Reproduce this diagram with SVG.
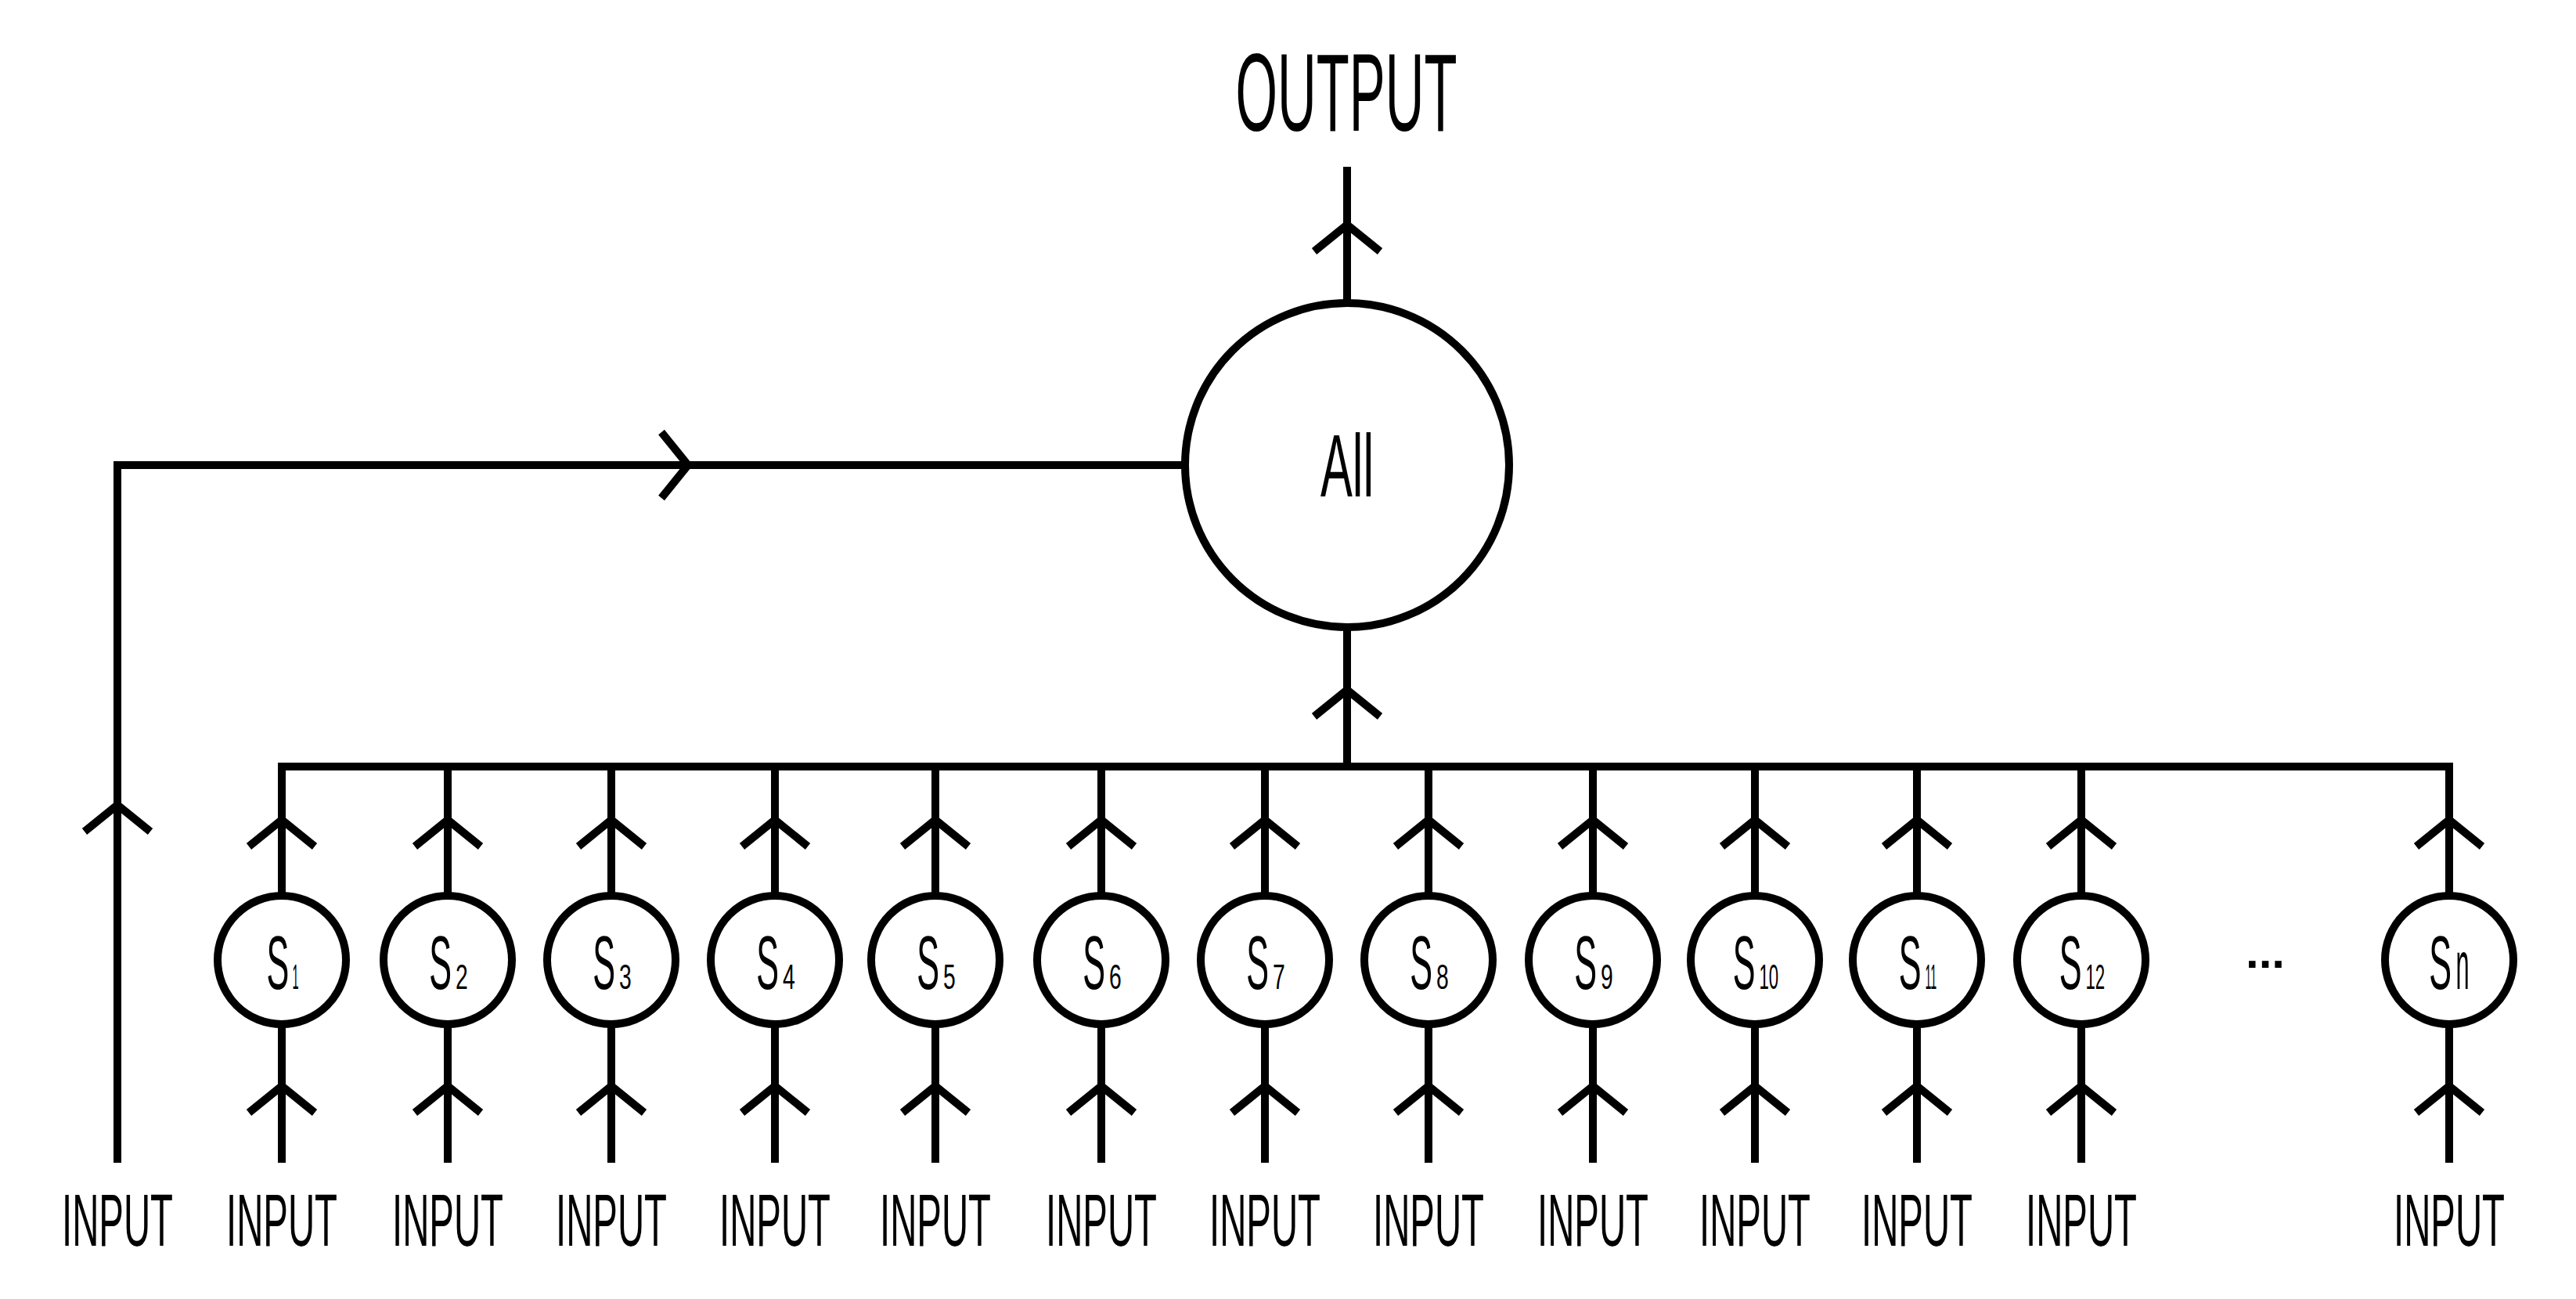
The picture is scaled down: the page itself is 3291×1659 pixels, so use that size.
<svg xmlns="http://www.w3.org/2000/svg" xmlns:xlink="http://www.w3.org/1999/xlink" width="3291" height="1659" viewBox="0 0 3291 1659">
  <style>
    .ln { fill: none; stroke: #000; stroke-width: 10; stroke-linejoin: miter; stroke-linecap: butt; }
    .nd { fill: #fff; stroke: #000; stroke-width: 10; }
    .t { font-family: "Liberation Sans", Arial, sans-serif; fill: #000; text-anchor: middle; }
    .in { font-size: 95px; }
    .sl { font-size: 96px; }
    .sub { font-size: 44px; }
  </style>
  <defs>
    <path id="chev" class="ln" d="M-42,34 L0,0 L42,34"/>
  </defs>
  <rect x="0" y="0" width="3291" height="1659" fill="#fff"/>

  <g id="connectors">
    <path class="ln" d="M1721,213 V387"/>
    <use xlink:href="#chev" href="#chev" x="1721" y="287"/>
    <path class="ln" d="M1721,801 V979"/>
    <use xlink:href="#chev" href="#chev" x="1721" y="881"/>
    <path class="ln" d="M150,1485 V594 H1514"/>
    <use xlink:href="#chev" href="#chev" x="150" y="1028"/>
    <use xlink:href="#chev" href="#chev" transform="translate(879,594) rotate(90)"/>
    <path class="ln" d="M360,1485 V979 H3129 V1485"/>
    <path class="ln" d="M572,979 V1485 M781,979 V1485 M990,979 V1485 M1195,979 V1485 M1407,979 V1485 M1616,979 V1485 M1825,979 V1485 M2035,979 V1485 M2242,979 V1485 M2449,979 V1485 M2659,979 V1485"/>
    <g id="upper-arrows">
      <use xlink:href="#chev" href="#chev" x="360" y="1047"/>
      <use xlink:href="#chev" href="#chev" x="572" y="1047"/>
      <use xlink:href="#chev" href="#chev" x="781" y="1047"/>
      <use xlink:href="#chev" href="#chev" x="990" y="1047"/>
      <use xlink:href="#chev" href="#chev" x="1195" y="1047"/>
      <use xlink:href="#chev" href="#chev" x="1407" y="1047"/>
      <use xlink:href="#chev" href="#chev" x="1616" y="1047"/>
      <use xlink:href="#chev" href="#chev" x="1825" y="1047"/>
      <use xlink:href="#chev" href="#chev" x="2035" y="1047"/>
      <use xlink:href="#chev" href="#chev" x="2242" y="1047"/>
      <use xlink:href="#chev" href="#chev" x="2449" y="1047"/>
      <use xlink:href="#chev" href="#chev" x="2659" y="1047"/>
      <use xlink:href="#chev" href="#chev" x="3129" y="1047"/>
    </g>
    <g id="lower-arrows">
      <use xlink:href="#chev" href="#chev" x="360" y="1387"/>
      <use xlink:href="#chev" href="#chev" x="572" y="1387"/>
      <use xlink:href="#chev" href="#chev" x="781" y="1387"/>
      <use xlink:href="#chev" href="#chev" x="990" y="1387"/>
      <use xlink:href="#chev" href="#chev" x="1195" y="1387"/>
      <use xlink:href="#chev" href="#chev" x="1407" y="1387"/>
      <use xlink:href="#chev" href="#chev" x="1616" y="1387"/>
      <use xlink:href="#chev" href="#chev" x="1825" y="1387"/>
      <use xlink:href="#chev" href="#chev" x="2035" y="1387"/>
      <use xlink:href="#chev" href="#chev" x="2242" y="1387"/>
      <use xlink:href="#chev" href="#chev" x="2449" y="1387"/>
      <use xlink:href="#chev" href="#chev" x="2659" y="1387"/>
      <use xlink:href="#chev" href="#chev" x="3129" y="1387"/>
    </g>
  </g>

  <g id="output-label">
    <text class="t" transform="translate(1720,167) scale(0.488,1)" font-size="141">OUTPUT</text>
  </g>

  <g id="node-all">
    <circle class="nd" cx="1721" cy="594" r="207"/>
    <text class="t" transform="translate(1721,634) scale(0.542,1)" font-size="113">All</text>
  </g>

  <g id="node-s1"><circle class="nd" cx="360" cy="1226" r="82"/><text class="t sl" transform="translate(361,1263) scale(0.45,1)">S<tspan class="sub" dx="9" textLength="18" lengthAdjust="spacingAndGlyphs">1</tspan></text></g>
  <g id="node-s2"><circle class="nd" cx="572" cy="1226" r="82"/><text class="t sl" transform="translate(573,1263) scale(0.45,1)">S<tspan class="sub" dx="11" textLength="35" lengthAdjust="spacingAndGlyphs">2</tspan></text></g>
  <g id="node-s3"><circle class="nd" cx="781" cy="1226" r="82"/><text class="t sl" transform="translate(782,1263) scale(0.45,1)">S<tspan class="sub" dx="11" textLength="35" lengthAdjust="spacingAndGlyphs">3</tspan></text></g>
  <g id="node-s4"><circle class="nd" cx="990" cy="1226" r="82"/><text class="t sl" transform="translate(991,1263) scale(0.45,1)">S<tspan class="sub" dx="11" textLength="35" lengthAdjust="spacingAndGlyphs">4</tspan></text></g>
  <g id="node-s5"><circle class="nd" cx="1195" cy="1226" r="82"/><text class="t sl" transform="translate(1196,1263) scale(0.45,1)">S<tspan class="sub" dx="11" textLength="35" lengthAdjust="spacingAndGlyphs">5</tspan></text></g>
  <g id="node-s6"><circle class="nd" cx="1407" cy="1226" r="82"/><text class="t sl" transform="translate(1408,1263) scale(0.45,1)">S<tspan class="sub" dx="11" textLength="35" lengthAdjust="spacingAndGlyphs">6</tspan></text></g>
  <g id="node-s7"><circle class="nd" cx="1616" cy="1226" r="82"/><text class="t sl" transform="translate(1617,1263) scale(0.45,1)">S<tspan class="sub" dx="11" textLength="35" lengthAdjust="spacingAndGlyphs">7</tspan></text></g>
  <g id="node-s8"><circle class="nd" cx="1825" cy="1226" r="82"/><text class="t sl" transform="translate(1826,1263) scale(0.45,1)">S<tspan class="sub" dx="11" textLength="35" lengthAdjust="spacingAndGlyphs">8</tspan></text></g>
  <g id="node-s9"><circle class="nd" cx="2035" cy="1226" r="82"/><text class="t sl" transform="translate(2036,1263) scale(0.45,1)">S<tspan class="sub" dx="11" textLength="35" lengthAdjust="spacingAndGlyphs">9</tspan></text></g>
  <g id="node-s10"><circle class="nd" cx="2242" cy="1226" r="82"/><text class="t sl" transform="translate(2243,1263) scale(0.45,1)">S<tspan class="sub" dx="11" textLength="55" lengthAdjust="spacingAndGlyphs">10</tspan></text></g>
  <g id="node-s11"><circle class="nd" cx="2449" cy="1226" r="82"/><text class="t sl" transform="translate(2450,1263) scale(0.45,1)">S<tspan class="sub" dx="11" textLength="33" lengthAdjust="spacingAndGlyphs">11</tspan></text></g>
  <g id="node-s12"><circle class="nd" cx="2659" cy="1226" r="82"/><text class="t sl" transform="translate(2660,1263) scale(0.45,1)">S<tspan class="sub" dx="11" textLength="55" lengthAdjust="spacingAndGlyphs">12</tspan></text></g>
  <g id="node-sn"><circle class="nd" cx="3129" cy="1226" r="82"/><text class="t sl" transform="translate(3129,1263) scale(0.45,1)">S<tspan dx="12" font-size="87" textLength="38" lengthAdjust="spacingAndGlyphs">n</tspan></text></g>

  <g id="ellipsis">
    <text class="t" x="2894" y="1236" font-size="60" font-weight="bold">...</text>
  </g>

  <g id="input-labels">
    <text class="t in" transform="translate(150,1591) scale(0.498,1)">INPUT</text>
    <text class="t in" transform="translate(360,1591) scale(0.498,1)">INPUT</text>
    <text class="t in" transform="translate(572,1591) scale(0.498,1)">INPUT</text>
    <text class="t in" transform="translate(781,1591) scale(0.498,1)">INPUT</text>
    <text class="t in" transform="translate(990,1591) scale(0.498,1)">INPUT</text>
    <text class="t in" transform="translate(1195,1591) scale(0.498,1)">INPUT</text>
    <text class="t in" transform="translate(1407,1591) scale(0.498,1)">INPUT</text>
    <text class="t in" transform="translate(1616,1591) scale(0.498,1)">INPUT</text>
    <text class="t in" transform="translate(1825,1591) scale(0.498,1)">INPUT</text>
    <text class="t in" transform="translate(2035,1591) scale(0.498,1)">INPUT</text>
    <text class="t in" transform="translate(2242,1591) scale(0.498,1)">INPUT</text>
    <text class="t in" transform="translate(2449,1591) scale(0.498,1)">INPUT</text>
    <text class="t in" transform="translate(2659,1591) scale(0.498,1)">INPUT</text>
    <text class="t in" transform="translate(3129,1591) scale(0.498,1)">INPUT</text>
  </g>
</svg>
